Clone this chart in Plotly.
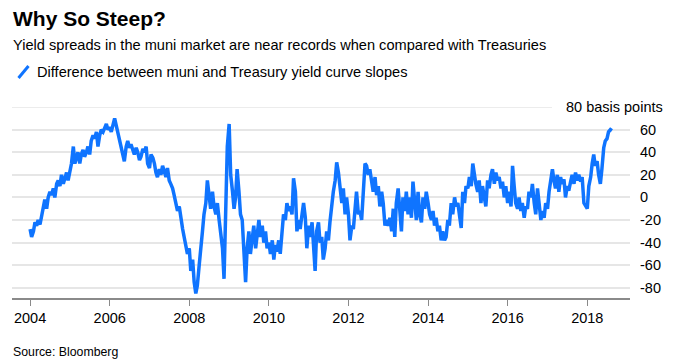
import pandas as pd
import plotly.graph_objects as go

# Semi-monthly readings (1st and 15th of each month), basis points
v2004 = [-28, -35, -30, -22, -25, -20, -24, -18, -8, -2, -10, 0, 5, 2, 8, 0, 12, 15, 10, 20, 12, 18, 22, 15]
v2005 = [25, 30, 45, 30, 35, 40, 30, 38, 42, 36, 40, 45, 38, 50, 55, 52, 58, 45, 55, 60, 58, 62, 65, 60]
v2006 = [62, 58, 66, 70, 64, 58, 50, 45, 35, 32, 45, 50, 44, 47, 42, 38, 44, 40, 33, 36, 43, 40, 45, 30]
v2007 = [26, 38, 35, 30, 22, 18, 25, 20, 28, 22, 18, 26, 15, 12, 8, 2, -5, -12, -8, -20, -28, -35, -42, -50]
v2008 = [-45, -65, -55, -75, -85, -78, -60, -48, -30, -15, -5, 15, 0, -10, 5, -8, -15, -5, -20, -30, -45, -72, -20, 45]
v2009 = [65, 20, 5, -10, 0, 25, 5, -15, -20, -40, -75, -45, -30, -50, -35, -25, -45, -30, -20, -35, -25, -40, -30, -45]
v2010 = [-40, -50, -38, -55, -42, -48, -38, -50, -30, -15, -20, -5, -12, -8, -15, 17, 5, -30, -20, -28, -15, -5, -18, -45]
v2011 = [-25, -35, -22, -45, -65, -30, -22, -40, -35, -55, -45, -30, -38, -22, -5, 5, 15, 31, 22, 10, -5, 8, -15, 0]
v2012 = [-15, -38, -25, -28, -10, 5, -15, -12, -20, 10, 30, 28, 20, 25, 15, 5, 18, 2, 10, -8, 5, -5, -25, -20]
v2013 = [-25, -18, -30, -10, -35, -5, 8, -10, -30, 0, -12, 5, -15, 0, -18, 14, -5, -20, 5, -15, -22, 0, -10, 5]
v2014 = [-5, -15, -20, -12, -25, -18, -30, -25, -38, -30, -38, -35, -20, -25, -5, -15, 0, -8, -5, -15, -27, 5, -5, 10]
v2015 = [8, 18, 10, 30, 20, 12, 5, 15, -5, 10, 0, -8, 15, 8, 20, 25, 12, 22, 15, 18, 8, 14, 0, 10]
v2016 = [-5, 5, -8, 28, 10, -5, -10, 0, -12, -5, -18, -8, -10, 5, 0, 12, -5, -15, 8, -8, -20, -12, -18, -5]
v2017 = [-10, 5, 15, 25, 15, 8, 20, 5, 18, 12, 16, 0, 10, 6, 14, 20, 12, 22, 15, 20, 14, 18, -5, -8]
v2018 = [-10, 10, 18, 30, 38, 28, 32, 20, 12, 25, 44, 50, 52, 58, 60, 59]

values = (v2004 + v2005 + v2006 + v2007 + v2008 + v2009 + v2010 + v2011 + v2012
          + v2013 + v2014 + v2015 + v2016 + v2017 + v2018)
dates = pd.date_range("2004-01-01", periods=len(values), freq="SMS")

series_name = "Difference between muni and Treasury yield curve slopes"
x_ticks = ["2004", "2006", "2008", "2010", "2012", "2014", "2016", "2018"]
y_ticks = [-80, -60, -40, -20, 0, 20, 40, 60]
y_top_label = "80 basis points"

BLUE = "#0f74ff"
FONT = "Liberation Sans, Arial, Helvetica, sans-serif"
W, H = 674, 364
ML, MR, MT, MB = 12, 44, 107, 66
PW, PH = W - ML - MR, H - MT - MB

def px(x):
    return (x - ML) / PW

def py(y):
    return (H - MB - y) / PH

fig = go.Figure()
fig.add_trace(go.Scatter(x=dates, y=values, mode="lines",
                         line=dict(color=BLUE, width=3.5), name=series_name,
                         showlegend=False, hoverinfo="skip"))

fig.update_layout(
    width=W, height=H,
    margin=dict(l=ML, r=MR, t=MT, b=MB),
    paper_bgcolor="white", plot_bgcolor="white",
    font=dict(family=FONT, color="#000", size=14.5),
    xaxis=dict(
        type="date", range=["2003-07-19", "2019-01-28"],
        tickvals=[f"{t}-01-01" for t in x_ticks], ticktext=x_ticks,
        showgrid=False, showline=True, linecolor="#8a8a8a", linewidth=2,
        ticks="outside", ticklen=6, tickwidth=1, tickcolor="#8a8a8a",
        tickfont=dict(size=14.5, color="#000"), zeroline=False,
    ),
    yaxis=dict(
        range=[-89, 80], side="right", tickvals=y_ticks,
        ticktext=[str(v) for v in y_ticks],
        showgrid=True, gridcolor="#e6e6e6", gridwidth=1.5,
        zeroline=False, showline=False, ticks="",
        ticklabelstandoff=9, tickfont=dict(size=14.5, color="#000"),
    ),
    shapes=[
        dict(type="line", xref="paper", yref="y", x0=0, x1=px(552), y0=80, y1=80,
             line=dict(color="#e6e6e6", width=1.5), layer="below"),
        dict(type="line", xref="paper", yref="paper", x0=px(18.5), x1=px(28.5),
             y0=py(78), y1=py(66), line=dict(color=BLUE, width=3)),
    ],
    annotations=[
        dict(text="<b>Why So Steep?</b>", xref="paper", yref="paper", x=px(11), y=py(18),
             xanchor="left", yanchor="middle", showarrow=False,
             font=dict(size=21, color="#000", family=FONT)),
        dict(text="Yield spreads in the muni market are near records when compared with Treasuries",
             xref="paper", yref="paper", x=px(11), y=py(45), xanchor="left", yanchor="middle",
             showarrow=False, font=dict(size=14.6, color="#000", family=FONT)),
        dict(text=series_name, xref="paper", yref="paper", x=px(35), y=py(72),
             xanchor="left", yanchor="middle", showarrow=False,
             font=dict(size=14.6, color="#000", family=FONT)),
        dict(text=y_top_label, xref="paper", yref="y", x=px(665), y=80,
             xanchor="right", yanchor="middle", showarrow=False,
             font=dict(size=14.5, color="#000", family=FONT)),
        dict(text="Source: Bloomberg", xref="paper", yref="paper", x=px(11), y=py(352),
             xanchor="left", yanchor="middle", showarrow=False,
             font=dict(size=12.3, color="#000", family=FONT)),
    ],
)

fig.write_html("out.html", config={"displayModeBar": False},
               post_script="document.body.style.margin='0px';")
